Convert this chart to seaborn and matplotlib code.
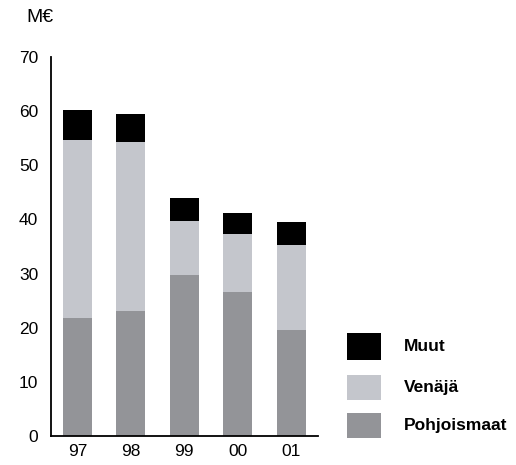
import matplotlib
matplotlib.use("Agg")
import matplotlib.pyplot as plt
from matplotlib.patches import Rectangle
import seaborn as sns
import pandas as pd
import numpy as np

years = ["97", "98", "99", "00", "01"]
pohjoismaat = [21.7, 23.1, 29.7, 26.6, 19.6]
venaja = [33.0, 31.3, 10.1, 10.7, 15.7]
muut = [5.6, 5.1, 4.2, 3.9, 4.2]
series_names = ["Pohjoismaat", "Venäjä", "Muut"]
colors = ["#939498", "#c4c6cc", "#000000"]
yticks = [0, 10, 20, 30, 40, 50, 60, 70]
unit_label = "M€"

sns.set_theme(style="white")
plt.rcParams["font.family"] = ["Liberation Sans", "DejaVu Sans"]

df = pd.DataFrame({"year": years, "Pohjoismaat": pohjoismaat,
                   "Venäjä": venaja, "Muut": muut})
cum = df[series_names].cumsum(axis=1)

fig = plt.figure(figsize=(5.16, 4.65), dpi=100)
ax = fig.add_axes([50.7 / 516, 1 - 435.7 / 465, (318 - 50.7) / 516, (435.7 - 57.3) / 465])

for name, col in reversed(list(zip(series_names, colors))):
    sns.barplot(x=df["year"], y=cum[name], color=col, width=0.54,
                saturation=1, ax=ax, linewidth=0, edgecolor="none")

ax.set_xlim(-0.5, 4.5)
ax.set_ylim(0, 70)
ax.set_xlabel("")
ax.set_ylabel("")
ax.set_yticks(yticks)
ax.set_yticklabels([str(v) for v in yticks], fontsize=12.5)
ax.set_yticks([70], minor=True)
ax.tick_params(axis="y", which="minor", direction="in", length=6, width=1.3, color="black")
ax.set_xticks(np.arange(len(years)))
ax.set_xticklabels(years, fontsize=12.5)
ax.tick_params(axis="x", which="major", length=0, pad=6, colors="black")
ax.set_xticks(np.arange(len(years)) + 0.5, minor=True)
ax.tick_params(axis="x", which="minor", direction="in", length=9, width=1.3, color="black")
ax.tick_params(axis="y", which="major", direction="out", length=4, width=1.3, pad=5, colors="black")
for s in ["top", "right"]:
    ax.spines[s].set_visible(False)
for s in ["left", "bottom"]:
    ax.spines[s].set_linewidth(1.3)
    ax.spines[s].set_color("black")

fig.text(26 / 516, 1 - 17 / 465, unit_label, fontsize=14, ha="left", va="center", color="black")

# legend
box_y = [413, 375, 333]
box_h = [25, 25, 27]
for name, col, y, h in zip(series_names, colors, box_y, box_h):
    fig.patches.append(Rectangle((346.7 / 516, 1 - (y + h) / 465), 34 / 516, h / 465,
                                 transform=fig.transFigure, facecolor=col, edgecolor="none"))
    fig.text(404 / 516, 1 - (y + h / 2) / 465, name, fontsize=12.5, fontweight="bold",
             ha="left", va="center", color="black")

fig.savefig("out.png", dpi=100)
